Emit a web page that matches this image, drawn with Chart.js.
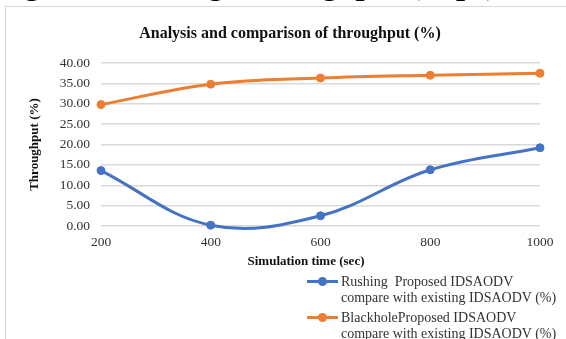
<!DOCTYPE html>
<html>
<head>
<meta charset="utf-8">
<script src="https://cdn.jsdelivr.net/npm/chart.js@4"></script>
<style>
  html, body { margin:0; padding:0; background:#fff; width:566px; height:339px; overflow:hidden; }
  body { position:relative; font-family:"Liberation Serif","Times New Roman",serif; }
  #caption { position:absolute; right:69px; top:-33px; font:bold 32px/1 "Liberation Serif",serif; color:#000; white-space:nowrap; }
  #box { position:absolute; left:5px; top:6px; width:700px; height:500px; border-left:1.5px solid #d9d9d9; border-top:1.5px solid #d9d9d9; }
  #wrap { position:absolute; left:0; top:0; width:566px; height:339px; }
  #title { position:absolute; left:0; width:580px; top:23px; text-align:center; font:bold 16px/20px "Liberation Serif",serif; color:#111; }
  #xtitle { position:absolute; left:0; width:612px; top:253px; text-align:center; font:bold 13px/16px "Liberation Serif",serif; color:#111; }
  #legend { position:absolute; left:307px; top:274px; }
  .entry { position:relative; height:36px; }
  .sample { position:absolute; left:0; top:6px; width:31px; height:3px; }
  .dot { position:absolute; left:11px; top:3px; width:9px; height:9px; border-radius:50%; }
  .txt { position:absolute; left:34px; top:0; font:14px/16px "Liberation Serif",serif; color:#333; white-space:pre; }
</style>
</head>
<body>
<div id="caption">Figure 7: Average throughput (kbps)</div>
<div id="box"></div>
<div id="wrap"><canvas id="c" width="566" height="339"></canvas></div>
<div id="title"></div>
<div id="xtitle"></div>
<div id="legend"></div>
<script>
const chartTitle = "Analysis and comparison of throughput (%)";
const xAxisTitle = "Simulation time (sec)";
const yAxisTitle = "Throughput (%)";
const categories = [200, 400, 600, 800, 1000];
const rushingValues = [13.6, 0.2, 2.5, 13.8, 19.2];
const blackholeValues = [29.8, 34.8, 36.3, 37.0, 37.5];
const rushingLabel = ["Rushing  Proposed IDSAODV", "compare with existing IDSAODV (%)"];
const blackholeLabel = ["BlackholeProposed IDSAODV", "compare with existing IDSAODV (%)"];
const yMin = 0, yMax = 40, yStep = 5;
const blue = "#4472C4", orange = "#ED7D31";

document.getElementById('title').textContent = chartTitle;
document.getElementById('xtitle').textContent = xAxisTitle;

const datasets = [
  { label: rushingLabel.join(' '), lines: rushingLabel, data: rushingValues, borderColor: blue, backgroundColor: blue },
  { label: blackholeLabel.join(' '), lines: blackholeLabel, data: blackholeValues, borderColor: orange, backgroundColor: orange }
].map(d => Object.assign(d, { borderWidth: 3, pointRadius: 4, pointHoverRadius: 4, pointBorderWidth: 1, tension: 0.38, clip: 10, fill: false }));

const leg = document.getElementById('legend');
datasets.forEach(d => {
  const e = document.createElement('div'); e.className = 'entry';
  e.innerHTML = '<div class="sample" style="background:' + d.borderColor + '"></div><div class="dot" style="background:' + d.borderColor + '"></div>';
  const t = document.createElement('div'); t.className = 'txt';
  t.textContent = d.lines.join('\n');
  e.appendChild(t); leg.appendChild(e);
});

const font = { family: "'Liberation Serif', 'Times New Roman', serif", size: 13.5 };
new Chart(document.getElementById('c'), {
  type: 'line',
  data: { labels: categories.map(String), datasets },
  options: {
    responsive: false, animation: false,
    events: [],
    layout: { padding: { top: 63, right: 26, bottom: 73, left: 0 } },
    elements: { line: { capBezierPoints: false } },
    plugins: { legend: { display: false }, title: { display: false }, tooltip: { enabled: false } },
    scales: {
      x: {
        offset: false,
        grid: { display: false, drawTicks: false },
        border: { display: false },
        ticks: { font, color: '#333', padding: 8, maxRotation: 0 },
        afterFit: s => { s.height = 40; }
      },
      y: {
        min: yMin, max: yMax,
        grid: { color: '#d9d9d9', lineWidth: 1.5, drawTicks: false },
        border: { display: false },
        ticks: { stepSize: yStep, font, color: '#333', padding: 11, callback: v => Number(v).toFixed(2) },
        title: { display: true, text: yAxisTitle, color: '#111', font: { family: font.family, size: 13, weight: 'bold' }, padding: { top: 27, bottom: 0 } },
        afterFit: s => { s.width = 101; }
      }
    }
  }
});
</script>
</body>
</html>
